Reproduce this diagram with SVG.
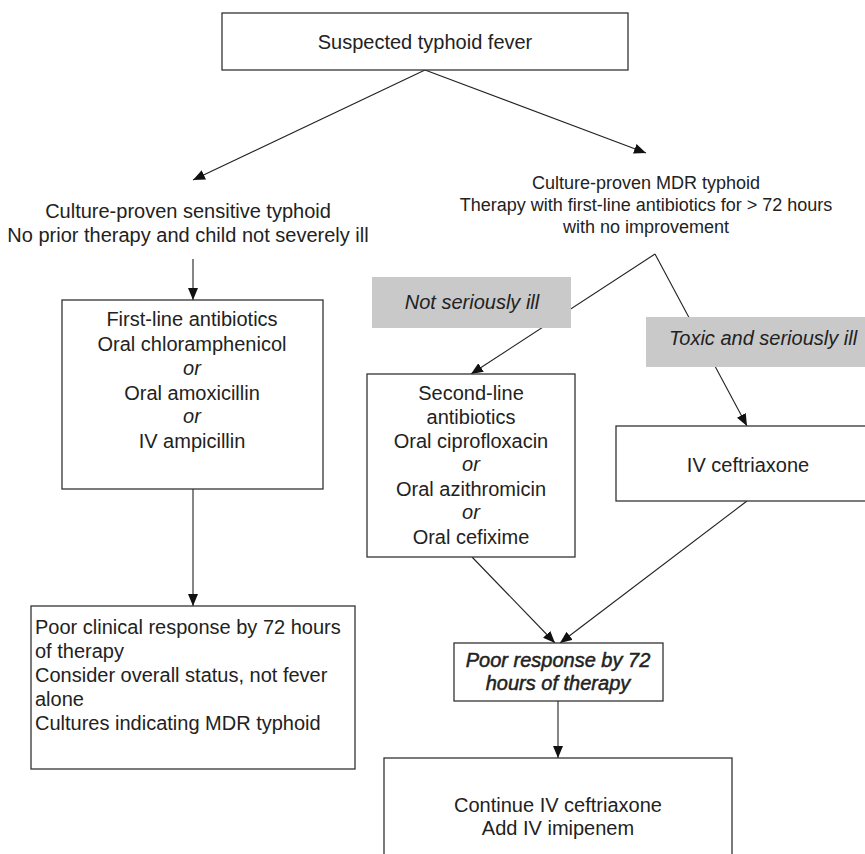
<svg xmlns="http://www.w3.org/2000/svg" width="865" height="854" viewBox="0 0 865 854">
<style>
text{font-family:"Liberation Sans",Arial,Helvetica,sans-serif;fill:#222;font-size:20px}
.c{text-anchor:middle}
.i{font-style:italic}
.b{stroke:#222;stroke-width:0.5}
.box{fill:#fff;stroke:#333;stroke-width:1.3}
.gray{fill:#c9c9c9;stroke:none}
.ln{stroke:#222;stroke-width:1.1;fill:none}
.s18{font-size:18px}
</style>
<defs>
<marker id="ah" viewBox="0 0 12 10" refX="12" refY="5" markerWidth="12" markerHeight="10" markerUnits="userSpaceOnUse" orient="auto">
<path d="M0,0 L12,5 L0,10 Z" fill="#111"/>
</marker>
</defs>
<rect width="865" height="854" fill="#fff"/>
<g id="connectors">
<line class="ln" x1="425" y1="70" x2="193" y2="180" marker-end="url(#ah)"/>
<line class="ln" x1="425" y1="70" x2="646" y2="153" marker-end="url(#ah)"/>
<line class="ln" x1="193" y1="259" x2="193" y2="300" marker-end="url(#ah)"/>
<line class="ln" x1="193" y1="489" x2="193" y2="606" marker-end="url(#ah)"/>
<line class="ln" x1="655" y1="254" x2="471" y2="374" marker-end="url(#ah)"/>
<line class="ln" x1="655" y1="254" x2="747" y2="426" marker-end="url(#ah)"/>
<line class="ln" x1="472" y1="557" x2="555" y2="643" marker-end="url(#ah)"/>
<line class="ln" x1="747" y1="501" x2="560" y2="643" marker-end="url(#ah)"/>
<line class="ln" x1="558" y1="701" x2="558" y2="758" marker-end="url(#ah)"/>
</g>
<g id="n-suspected">
<rect class="box" x="222" y="13" width="406" height="57"/>
<text class="c" x="425" y="49">Suspected typhoid fever</text>
</g>
<g id="n-sensitive">
<text class="c" x="188" y="218">Culture-proven sensitive typhoid</text>
<text class="c" x="188" y="242">No prior therapy and child not severely ill</text>
</g>
<g id="n-mdr">
<text class="c s18" x="646" y="189">Culture-proven MDR typhoid</text>
<text class="c s18" x="646" y="211">Therapy with first-line antibiotics for &gt; 72 hours</text>
<text class="c s18" x="646" y="233">with no improvement</text>
</g>
<g id="n-firstline">
<rect class="box" x="62" y="300" width="261" height="189"/>
<text class="c" x="192" y="326">First-line antibiotics</text>
<text class="c" x="192" y="351">Oral chloramphenicol</text>
<text class="c i" x="192" y="375">or</text>
<text class="c" x="192" y="400">Oral amoxicillin</text>
<text class="c i" x="192" y="423">or</text>
<text class="c" x="192" y="448">IV ampicillin</text>
</g>
<g id="n-notserious">
<rect class="gray" x="372" y="277" width="199" height="51"/>
<text class="c i" x="472" y="309">Not seriously ill</text>
</g>
<g id="n-toxic">
<rect class="gray" x="646" y="317" width="234" height="50"/>
<text class="c i" x="763" y="345">Toxic and seriously ill</text>
</g>
<g id="n-secondline">
<rect class="box" x="367" y="374" width="208" height="183"/>
<text class="c" x="471" y="400">Second-line</text>
<text class="c" x="471" y="424">antibiotics</text>
<text class="c" x="471" y="448">Oral ciprofloxacin</text>
<text class="c i" x="471" y="471">or</text>
<text class="c" x="471" y="496">Oral azithromicin</text>
<text class="c i" x="471" y="519">or</text>
<text class="c" x="471" y="544">Oral cefixime</text>
</g>
<g id="n-ceftriaxone">
<rect class="box" x="616" y="426" width="264" height="75"/>
<text class="c" x="748" y="472">IV ceftriaxone</text>
</g>
<g id="n-poorclinical">
<rect class="box" x="31" y="606" width="324" height="163"/>
<text x="35" y="634">Poor clinical response by 72 hours</text>
<text x="35" y="658">of therapy</text>
<text x="35" y="682">Consider overall status, not fever</text>
<text x="35" y="706">alone</text>
<text x="35" y="730">Cultures indicating MDR typhoid</text>
</g>
<g id="n-poorresponse">
<rect class="box" x="454" y="643" width="209" height="58"/>
<text class="c i b" x="558" y="667">Poor response by 72</text>
<text class="c i b" x="558" y="690">hours of therapy</text>
</g>
<g id="n-final">
<rect class="box" x="384" y="758" width="348" height="110"/>
<text class="c" x="558" y="812">Continue IV ceftriaxone</text>
<text class="c" x="558" y="835">Add IV imipenem</text>
</g>
</svg>
